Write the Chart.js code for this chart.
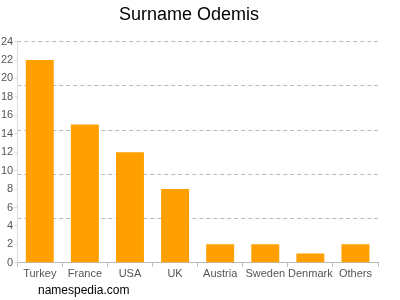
<!DOCTYPE html>
<html>
<head>
<meta charset="utf-8">
<script src="https://cdn.jsdelivr.net/npm/chart.js@4"></script>
<style>
  body { margin: 0; background: #fff; }
  #wrap { position: relative; width: 400px; height: 300px; }
  #footer {
    position: absolute; left: 38px; top: 283px;
    font: 12px "Liberation Sans", Arial, sans-serif; color: #000;
  }
</style>
</head>
<body>
<div id="wrap">
  <canvas id="surnameChart" width="400" height="300"></canvas>
  <div id="footer">namespedia.com</div>
</div>
<script>
// Data
const countries = ["Turkey", "France", "USA", "UK", "Austria", "Sweden", "Denmark", "Others"];
const counts = [22, 15, 12, 8, 2, 2, 1, 2];

const ctx = document.getElementById("surnameChart");

new Chart(ctx, {
  type: "bar",
  data: {
    labels: countries,
    datasets: [
      {
        data: counts,
        backgroundColor: "#ffa000",
        barPercentage: 0.62,
        categoryPercentage: 1,
        yAxisID: "y",
      },
    ],
  },
  options: {
    responsive: false,
    animation: false,
    layout: { padding: { left: 0, right: 22, top: 0, bottom: 18 } },
    plugins: {
      legend: { display: false },
      tooltip: { enabled: false },
      title: {
        display: true,
        text: "Surname Odemis",
        color: "#000",
        font: { family: "Liberation Sans", size: 18, weight: "normal" },
        padding: { top: 4, bottom: 16 },
      },
    },
    scales: {
      x: {
        offset: true,
        grid: { drawOnChartArea: false, tickLength: 4, color: "#bbb" },
        border: { color: "#bbb" },
        ticks: {
          color: "#555",
          font: { family: "Liberation Sans", size: 11 },
          padding: 1,
          maxRotation: 0,
          autoSkip: false,
        },
      },
      y: {
        min: 0,
        max: 24,
        ticks: { stepSize: 2, color: "#555", font: { family: "Liberation Sans", size: 11 }, padding: 1 },
        grid: { drawOnChartArea: false, tickLength: 3, color: "#ddd" },
        border: { color: "#ddd" },
      },
      // extra axis only for the dashed grid lines (every 4.8)
      y2: {
        position: "right",
        min: 0,
        max: 24,
        ticks: { display: false, stepSize: 4.8 },
        grid: { drawTicks: false, color: "#bbb", tickLength: 0 },
        border: { display: false, dash: [4, 3] },
      },
    },
  },
});
</script>
</body>
</html>
